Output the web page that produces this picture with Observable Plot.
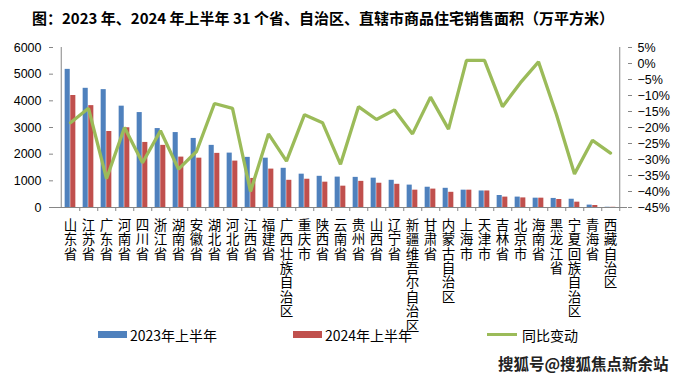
<!DOCTYPE html>
<html>
<head>
<meta charset="utf-8">
<script src="https://cdn.jsdelivr.net/npm/d3@7"></script>
<script src="https://cdn.jsdelivr.net/npm/@observablehq/plot@0.6"></script>
<style>
  html, body { margin: 0; padding: 0; background: #fff; }
  #wrap { position: relative; width: 681px; height: 381px; overflow: hidden; background: #fff;
          font-family: "Noto Sans CJK SC", "Liberation Sans", sans-serif; color: #000; }
  #title { position: absolute; left: 32px; top: 10px; font-size: 15px; line-height: 15px; font-weight: bold;
           white-space: nowrap; letter-spacing: 0px; }
  #chart { position: absolute; left: 0; top: 35px; }
  .lg { position: absolute; }
  .lgt { position: absolute; top: 326px; font-size: 14px; line-height: 18px; white-space: nowrap; }
  #wm { position: absolute; left: 498px; top: 354px; font-size: 15.5px; line-height: 19px; font-weight: bold;
        color: #222; white-space: nowrap; text-shadow: 0 0 1px #fff; }
</style>
</head>
<body>
<div id="wrap">
  <div id="title">图：2023 年、2024 年上半年 31 个省、自治区、直辖市商品住宅销售面积（万平方米）</div>
  <div id="chart"></div>
  <div class="lg" style="left:98px;top:331px;width:29px;height:7px;background:#4F81BD"></div>
  <div class="lgt" style="left:130px">2023年上半年</div>
  <div class="lg" style="left:293px;top:331px;width:29px;height:7px;background:#C0504D"></div>
  <div class="lgt" style="left:325px">2024年上半年</div>
  <div class="lg" style="left:487px;top:333px;width:30px;height:3px;background:#9BBB59"></div>
  <div class="lgt" style="left:522px">同比变动</div>
  <div id="wm">搜狐号@搜狐焦点新余站</div>
</div>
<script>
const provinces = ["山东省","江苏省","广东省","河南省","四川省","浙江省","湖南省","安徽省","湖北省","河北省",
  "江西省","福建省","广西壮族自治区","重庆市","陕西省","云南省","贵州省","山西省","辽宁省","新疆维吾尔自治区",
  "甘肃省","内蒙古自治区","上海市","天津市","吉林省","北京市","海南省","黑龙江省","宁夏回族自治区","青海省","西藏自治区"];
const area2023 = [5180,4470,4420,3800,3560,2960,2810,2590,2330,2040,
  1880,1850,1470,1250,1170,1140,1130,1100,1020,840,
  760,720,650,620,450,390,350,340,310,90,10];
const area2024 = [4200,3820,2850,2990,2440,2330,1890,1850,2030,1740,
  1090,1440,1020,1060,950,800,980,910,870,650,
  690,570,650,620,390,360,350,300,200,75,8];
const yoyPct = [-18.5,-14,-36,-20,-31,-21,-33,-27.5,-12.5,-14,
  -40,-22,-30.5,-16,-18.5,-31.5,-13.5,-17.5,-14.5,-22,
  -10.5,-20.5,1,1,-13.5,-6,0.5,-16,-34.5,-24,-28];
const leftTicks = [0,1000,2000,3000,4000,5000,6000];
const rightTicks = [5,0,-5,-10,-15,-20,-25,-30,-35,-40,-45];
const rightTickLabels = ["5%","0%","−5%","−10%","−15%","−20%","−25%","−30%","−35%","−40%","−45%"];

const W = 681, H = 346, mL = 53, mR = 54, mT = 12, mB = 174;
const bw = (W - mL - mR) / provinces.length;
const barW = 5.6;
// right axis (−45%..5%) shares the plotting range with the left axis (0..6000)
const pctDomain = [-45, 5], leftDomain = [0, 6000];
const toLeft = p => leftDomain[0] + (p - pctDomain[0]) / (pctDomain[1] - pctDomain[0]) * (leftDomain[1] - leftDomain[0]);

const rows = provinces.map((name, i) => ({name, a2023: area2023[i], a2024: area2024[i], yoy: yoyPct[i]}));
const rightMap = new Map(rightTicks.map((t, i) => [toLeft(t), rightTickLabels[i]]));

const axisColor = "#868686";
const chart = Plot.plot({
  width: W, height: H, marginTop: mT, marginBottom: mB, marginLeft: mL, marginRight: mR,
  x: {type: "band", domain: provinces, padding: 0},
  y: {domain: leftDomain},
  style: {background: "transparent", fontFamily: "'Liberation Sans', Arial, sans-serif", color: "#000"},
  marks: [
    Plot.barY(rows, {x: "name", y: "a2023", fill: "#4F81BD", insetLeft: bw / 2 - barW, insetRight: bw / 2}),
    Plot.barY(rows, {x: "name", y: "a2024", fill: "#C0504D", insetLeft: bw / 2, insetRight: bw / 2 - barW}),
    Plot.ruleY([0], {stroke: axisColor}),
    Plot.ruleX([provinces[0]], {stroke: axisColor, dx: -bw / 2}),
    Plot.ruleX([provinces[provinces.length - 1]], {stroke: axisColor, dx: bw / 2}),
    Plot.axisX({tickSize: 4, tickFormat: () => "", dx: bw / 2, stroke: axisColor, label: null}),
    Plot.axisY(leftTicks, {anchor: "left", tickSize: 4, tickPadding: 8, tickFormat: d => String(d),
      stroke: axisColor, fill: "#000", fontSize: 12.5, label: null}),
    Plot.axisY(rightTicks.map(toLeft), {anchor: "right", tickSize: 4, tickPadding: 6,
      tickFormat: d => rightMap.get(d), stroke: axisColor, fill: "#000", fontSize: 12.5, label: null}),
    Plot.line(rows, {x: "name", y: d => toLeft(d.yoy), stroke: "#9BBB59", strokeWidth: 3.3,
      strokeLinejoin: "miter"}),
    Plot.text(rows, {x: "name", frameAnchor: "bottom", text: d => d.name.split("").join("\n"),
      lineAnchor: "top", lineHeight: 1.067, fontSize: 13.5, dy: 12, fill: "#000",
      fontFamily: "'Noto Sans CJK SC', sans-serif"})
  ]
});
document.getElementById("chart").appendChild(chart);
</script>
</body>
</html>
